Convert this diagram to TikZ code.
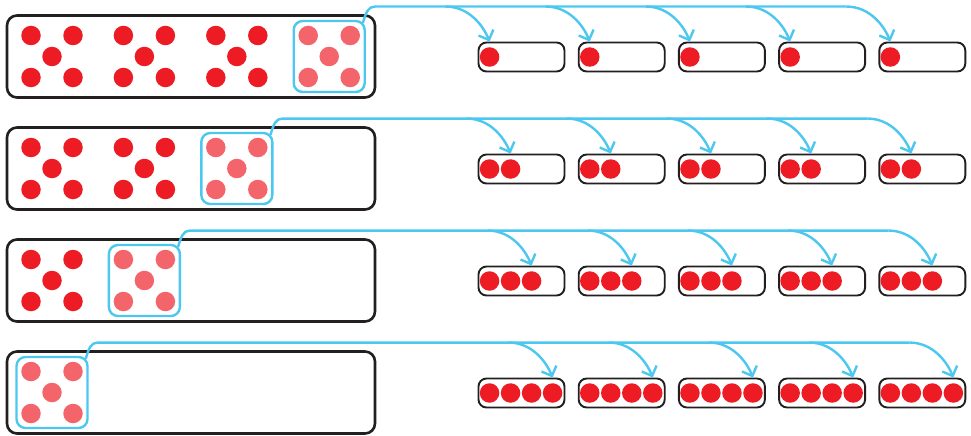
\documentclass[tikz,border=0pt]{standalone}
\usetikzlibrary{arrows.meta,calc,positioning}
\definecolor{gpink}{HTML}{231F20}
\definecolor{gpred}{HTML}{ED1C24}
\definecolor{gpfade}{HTML}{F4656B}
\definecolor{gpblue}{HTML}{4BC7F0}
\tikzset{
  gpframe/.style={
    draw=gpink,
    line width=2.6pt,
    rounded corners=10pt,
    minimum width=368pt,
    minimum height=82pt,
    inner sep=0pt
  },
  gppick/.style={
    draw=gpblue,
    line width=2.4pt,
    rounded corners=9pt,
    minimum size=71pt,
    inner sep=0pt
  },
  gpcup/.style={
    draw=gpink,
    line width=1.9pt,
    rounded corners=8pt,
    minimum width=86pt,
    minimum height=29pt,
    inner sep=0pt
  },
  gpdot/.style={
    circle,
    fill=gpred,
    minimum size=19.5pt,
    inner sep=0pt
  },
  gpfaded/.style={
    gpdot,
    fill=gpfade
  },
  gprail/.style={
    draw=gpblue,
    line width=2.4pt
  },
  gpedge/.style={
    gprail,
    -{Straight Barb[length=8pt,width=16pt]}
  }
}
% five dots of one group: name, x, y, style
\newcommand\gpfive[4]{%
  \node[#4] (#1a) at ({#2-21},{#3-21}) {};
  \node[#4] (#1b) at ({#2+21},{#3-21}) {};
  \node[#4] (#1c) at ({#2},{#3}) {};
  \node[#4] (#1d) at ({#2-21},{#3+21}) {};
  \node[#4] (#1e) at ({#2+21},{#3+21}) {};
}

\begin{document}
\begin{tikzpicture}[x=1pt,y=-1pt]
  \useasboundingbox (0,0) rectangle (971,436);

  \foreach \row in {1,...,4}{
    \pgfmathsetmacro{\oy}{112*(\row-1)}
    \pgfmathtruncatemacro{\full}{4-\row}
    \pgfmathsetmacro{\px}{52+92.4*\full}
    \node[gpframe] (frame\row) at (191,{56.5+\oy}) {};

    % groups still left in the box
    \ifnum\full>0
      \foreach \grp in {1,...,\full}{
        \pgfmathsetmacro{\gx}{52+92.4*(\grp-1)}
        \gpfive{g\row\grp}{\gx}{56.5+\oy}{gpdot}
      }
    \fi

    % the group taken out
    \node[gppick] (pick\row) at (\px,{56.5+\oy}) {};
    \gpfive{f\row}{\px}{56.5+\oy}{gpfaded}

    % five cups on the right
    \foreach \col in {1,...,5}{
      \node[gpcup] (cup\row\col) at ({521.5+100.2*(\col-1)},{57+\oy}) {};
      \foreach \bi in {1,...,\row}{
        \node[gpdot] (bead\row\col\bi) at ($(cup\row\col.west)+({12+21*(\bi-1)},0)$) {};
      }
      \coordinate (tip\row\col) at (bead\row\col\row.center |- cup\row\col.north);
      \coordinate (fork\row\col) at ($(tip\row\col)+(-44,-35)$);
    }

    \coordinate (lift\row) at ($(pick\row.north east)+(-3,3)$);
    \coordinate (bend\row) at ($(lift\row)+(12,0)$);
    \draw[gprail] (lift\row) .. controls ($(lift\row)+(3,-10)$) and ($(bend\row |- fork\row1)+(-7,0)$)
      .. (bend\row |- fork\row1) -- (fork\row5);
    \foreach \col in {1,...,5}{
      \draw[gpedge] (fork\row\col) .. controls ($(fork\row\col)+(24,0)$) and ($(tip\row\col)+(-6,-15)$)
        .. (tip\row\col);
    }
  }
\end{tikzpicture}
\end{document}
